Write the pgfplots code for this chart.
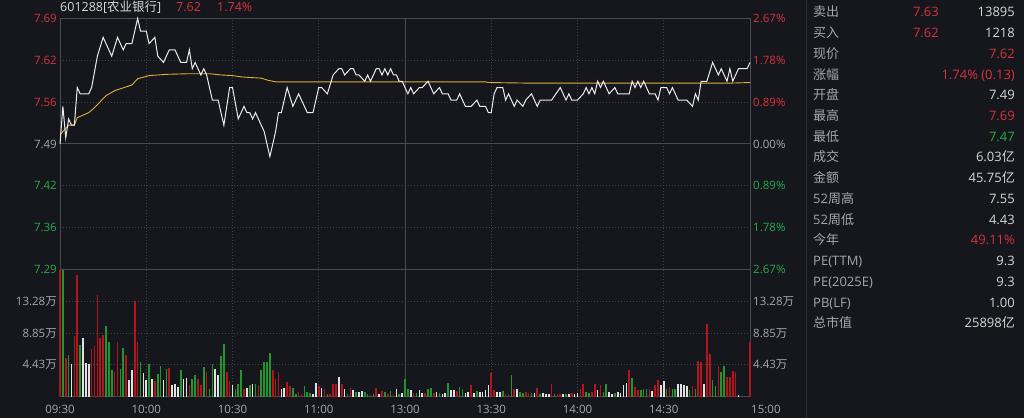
\documentclass[border=0pt]{standalone}
\usepackage{pgfplots}
\pgfplotsset{compat=1.18}
\usepackage{fontspec}
\setmainfont{Open Sans}
\newfontfamily\cjk{Noto Sans CJK SC}
\definecolor{bg}{RGB}{21,23,28}
\definecolor{gridc}{RGB}{62,65,72}
\definecolor{framec}{RGB}{72,75,82}
\definecolor{sepc}{RGB}{48,50,56}
\definecolor{upred}{RGB}{215,50,60}
\definecolor{dngreen}{RGB}{40,170,75}
\definecolor{lblgrey}{RGB}{165,167,172}
\definecolor{valc}{RGB}{215,215,218}
\definecolor{volred}{RGB}{178,22,28}
\definecolor{volgreen}{RGB}{32,150,45}
\definecolor{volwhite}{RGB}{225,225,228}
\definecolor{pricec}{RGB}{235,235,238}
\definecolor{avgc}{RGB}{225,175,55}
\newcommand\ax{\fontsize{11.5pt}{13pt}\selectfont}
\newcommand\pn{\fontsize{13pt}{15pt}\selectfont}
\begin{document}
\begin{tikzpicture}[x=1pt,y=1pt,
  ll/.style={anchor=base east, inner sep=0pt, yshift=-4.1pt, font=\ax},
  rl/.style={anchor=base west, inner sep=0pt, yshift=-4.1pt, font=\ax},
  pl/.style={anchor=base west, inner sep=0pt, yshift=-4.7pt, font=\pn, text=lblgrey},
  pv/.style={anchor=base east, inner sep=0pt, yshift=-4.7pt, font=\pn, text=valc}]
\fill[bg] (0,0) rectangle (1024,417);
% grid
\foreach \yy in {357.2,315.3,231.7,189.8,52.75,84.5,116.25}
  \draw[gridc, line width=0.8pt, dash pattern=on 1pt off 2pt] (60,\yy) -- (750,\yy);
\foreach \xx in {146.25,232.5,318.75,491.25,577.5,663.75}
  \draw[gridc, line width=0.8pt, dash pattern=on 1pt off 2pt] (\xx,21) -- (\xx,399);
\draw[framec, line width=1pt] (60,21) -- (60,399) (750,21)--(750,399) (405,21)--(405,399);
\draw[framec, line width=1pt] (60,399)--(750,399) (60,273.5)--(750,273.5) (60,148)--(750,148) (60,21)--(750,21);
\draw[sepc, line width=1pt] (806,0)--(806,417);

% volume
\begin{axis}[at={(60pt,21pt)}, anchor=south west, width=690pt, height=127pt, scale only axis,
  xmin=0, xmax=240, ymin=0, ymax=17.72, hide axis, clip=false]
\addplot[ycomb, volred, line width=1.6pt, mark=none] coordinates {
(0,17.7)(2,5.4)(5,8.4)(6,16.9)(11,6.6)(12,7.0)(13,14.1)(14,8.1)(15,8.6)(19,3.4)(20,7.6)(23,5.8)(26,13.3)(27,7.6)(33,2.2)(38,4.0)(45,1.55)(48,2.5)(49,1.55)(51,3.4)(58,3.4)(59,2.2)(64,1.1)(69,1.55)(74,3.7)(75,2.4)(76,3.4)(79,2.0)(80,1.4)(83,0.6)(84,0.4)(90,1.4)(92,1.1)(94,0.4)(95,1.8)(96,1.8)(98,1.8)(101,1.2)(108,0.15)(110,1.2)(112,0.75)(114,0.3)(116,0.15)(123,0.5)(127,0.5)(130,0.5)(138,0.75)(143,1.55)(150,3.3)(151,0.85)(155,0.4)(156,0.4)(158,1.0)(162,0.6)(163,0.5)(166,1.2)(171,1.8)(173,0.3)(174,0.3)(178,0.5)(181,1.1)(182,1.8)(185,0.6)(186,1.7)(188,1.55)(198,3.7)(200,1.3)(201,0.85)(205,1.0)(207,1.55)(208,2.25)(212,1.3)(220,1.4)(222,4.95)(223,4.8)(225,10.1)(226,5.9)(229,4.3)(232,2.7)(233,2.7)(234,3.5)(235,3.4)(240,7.6)};
\addplot[ycomb, volgreen, line width=1.6pt, mark=none] coordinates {
(1,17.7)(3,5.8)(7,7.2)(16,9.8)(17,7.6)(18,3.7)(21,3.9)(22,6.7)(28,4.8)(31,4.6)(34,3.1)(35,4.2)(37,3.9)(42,3.7)(46,2.5)(47,3.0)(50,4.1)(52,1.1)(53,4.6)(56,5.6)(57,7.3)(61,1.1)(62,1.8)(63,3.7)(66,1.55)(68,1.8)(70,3.7)(71,4.8)(72,4.8)(73,6.0)(81,1.2)(82,0.4)(85,1.4)(86,0.6)(87,0.5)(93,0.4)(100,0.4)(103,0.6)(106,0.6)(107,0.3)(109,0.4)(113,0.6)(115,0.75)(118,0.4)(120,2.5)(121,1.0)(124,0.5)(128,1.0)(129,1.2)(132,0.5)(135,1.9)(139,1.3)(140,1.1)(145,0.75)(154,0.75)(157,3.0)(160,0.6)(161,0.5)(164,0.5)(167,0.4)(172,0.4)(176,0.4)(183,0.6)(184,0.5)(189,0.6)(190,1.7)(193,0.5)(199,2.6)(202,0.85)(203,1.0)(204,1.0)(211,1.0)(213,1.0)(214,1.1)(219,0.85)(221,1.0)(227,2.25)(228,1.4)(230,3.4)(231,4.3)};
\addplot[ycomb, volwhite, line width=1.6pt, mark=none] coordinates {
(4,4.6)(8,8.1)(9,4.7)(10,4.6)(24,2.25)(25,3.7)(29,3.3)(30,2.25)(32,2.5)(36,2.25)(39,1.55)(40,1.7)(41,1.3)(43,2.5)(44,2.6)(54,3.9)(55,3.0)(60,1.55)(65,1.2)(67,1.8)(77,1.1)(78,1.2)(88,0.3)(89,1.9)(91,1.2)(97,2.7)(99,1.0)(102,0.85)(104,0.6)(105,0.75)(111,0.3)(117,1.1)(119,0.5)(122,0.85)(125,0.85)(126,0.5)(131,0.6)(133,0.4)(134,0.5)(136,0.85)(137,0.85)(141,0.5)(142,0.6)(144,0.5)(146,0.6)(147,0.6)(148,0.85)(149,1.55)(152,0.6)(153,0.6)(159,1.1)(165,0.5)(168,0.5)(169,0.4)(170,0.3)(175,0.3)(177,0.3)(179,0.4)(180,0.5)(187,0.85)(191,0.6)(192,0.4)(194,0.6)(195,0.5)(196,1.55)(197,1.9)(206,0.75)(209,1.55)(210,2.1)(215,1.8)(216,1.8)(217,1.55)(218,1.4)(224,1.8)(236,0.15)};
\end{axis}

% price
\begin{axis}[at={(60pt,148pt)}, anchor=south west, width=690pt, height=251pt, scale only axis,
  xmin=0, xmax=240, ymin=7.29, ymax=7.69, hide axis, clip=false]
\addplot[avgc, line width=0.9pt, mark=none] coordinates {
(0,7.505)(3,7.52)(5,7.52)(6,7.532)(10,7.54)(12,7.548)(16,7.567)(19,7.575)(25,7.584)(27,7.594)(31,7.599)(37,7.601)(45,7.602)(52,7.602)(56,7.600)(60,7.599)(63,7.597)(66,7.596)(70,7.595)(72,7.592)(75,7.589)(148,7.589)(149,7.588)(163,7.587)(233,7.587)(240,7.588)};
\addplot[pricec, line width=1pt, mark=none] coordinates {
(0,7.49)(1,7.55)(2,7.50)(3,7.53)(4,7.52)(5,7.52)(6,7.58)(7,7.57)(10,7.57)(11,7.58)(13,7.63)(15,7.66)(18,7.63)(20,7.66)(22,7.64)(23,7.65)(25,7.65)(27,7.69)(28,7.67)(30,7.67)(31,7.65)(33,7.66)(34,7.63)(36,7.62)(38,7.64)(40,7.64)(42,7.62)(44,7.62)(45,7.64)(46,7.61)(47,7.62)(49,7.60)(50,7.61)(51,7.60)(53,7.56)(55,7.56)(57,7.52)(59,7.58)(60,7.58)(62,7.53)(64,7.55)(65,7.54)(66,7.54)(67,7.53)(68,7.54)(70,7.52)(71,7.51)(73,7.47)(75,7.51)(76,7.54)(77,7.54)(79,7.58)(81,7.55)(83,7.57)(86,7.54)(88,7.54)(90,7.58)(91,7.58)(93,7.57)(95,7.60)(97,7.61)(98,7.61)(99,7.60)(101,7.61)(102,7.61)(103,7.60)(104,7.60)(106,7.59)(107,7.60)(108,7.59)(110,7.61)(111,7.61)(112,7.60)(113,7.61)(114,7.60)(115,7.61)(116,7.60)(117,7.60)(118,7.59)(119,7.59)(120,7.58)(121,7.57)(122,7.58)(123,7.57)(125,7.58)(126,7.58)(128,7.59)(130,7.57)(132,7.58)(133,7.57)(135,7.57)(136,7.56)(138,7.56)(139,7.57)(141,7.55)(143,7.55)(145,7.56)(146,7.55)(148,7.55)(149,7.54)(150,7.54)(151,7.57)(152,7.58)(154,7.58)(155,7.56)(156,7.57)(158,7.55)(159,7.56)(161,7.55)(162,7.56)(164,7.57)(166,7.55)(167,7.56)(168,7.56)(171,7.56)(174,7.58)(176,7.56)(177,7.57)(178,7.56)(180,7.56)(182,7.57)(183,7.58)(184,7.57)(185,7.58)(186,7.57)(187,7.59)(188,7.58)(189,7.59)(190,7.58)(191,7.57)(193,7.58)(194,7.57)(198,7.57)(199,7.59)(200,7.58)(201,7.59)(202,7.58)(203,7.59)(204,7.58)(205,7.57)(207,7.57)(208,7.56)(209,7.58)(211,7.58)(212,7.57)(213,7.58)(215,7.56)(218,7.56)(220,7.55)(221,7.57)(222,7.56)(223,7.59)(225,7.59)(227,7.62)(229,7.60)(230,7.61)(232,7.59)(233,7.61)(234,7.59)(236,7.61)(239,7.61)(240,7.62)};
\end{axis}

% left labels
\node[ll, text=upred] at (57,399) {7.69};
\node[ll, text=upred] at (57,357.2) {7.62};
\node[ll, text=upred] at (57,315.3) {7.56};
\node[ll, text=lblgrey] at (57,273.5) {7.49};
\node[ll, text=dngreen] at (57,231.7) {7.42};
\node[ll, text=dngreen] at (57,189.8) {7.36};
\node[ll, text=dngreen] at (57,148) {7.29};
\node[ll, text=lblgrey] at (57,116.25) {13.28{\cjk 万}};
\node[ll, text=lblgrey] at (57,84.5) {8.85{\cjk 万}};
\node[ll, text=lblgrey] at (57,52.75) {4.43{\cjk 万}};
% right labels
\node[rl, text=upred] at (753,399) {2.67\%};
\node[rl, text=upred] at (753,357.2) {1.78\%};
\node[rl, text=upred] at (753,315.3) {0.89\%};
\node[rl, text=lblgrey] at (753,273.5) {0.00\%};
\node[rl, text=dngreen] at (753,231.7) {0.89\%};
\node[rl, text=dngreen] at (753,189.8) {1.78\%};
\node[rl, text=dngreen] at (753,148) {2.67\%};
\node[rl, text=lblgrey] at (753,116.25) {13.28{\cjk 万}};
\node[rl, text=lblgrey] at (753,84.5) {8.85{\cjk 万}};
\node[rl, text=lblgrey] at (753,52.75) {4.43{\cjk 万}};
% time labels
\foreach \xx/\tt in {60/09:30,146.25/10:00,232.5/10:30,318.75/11:00,405/13:00,491.25/13:30,577.5/14:00,663.75/14:30}
  \node[anchor=base, inner sep=0pt, font=\ax, text=lblgrey] at (\xx,4.5) {\tt};
\node[anchor=base west, inner sep=0pt, font=\ax, text=lblgrey] at (751,4.5) {15:00};
% title
\node[anchor=base west, inner sep=0pt, font=\fontsize{12.5pt}{14pt}\selectfont, text=valc] at (60,406) {601288[{\cjk 农业银行}]};
\node[anchor=base west, inner sep=0pt, font=\fontsize{12.5pt}{14pt}\selectfont, text=upred] at (176,406) {7.62};
\node[anchor=base west, inner sep=0pt, font=\fontsize{12.5pt}{14pt}\selectfont, text=upred] at (217,406) {1.74\%};
% right panel
\node[pl] at (813,405.3) {\cjk 卖出};
\node[pv, text=upred] at (939,405.3) {7.63};
\node[pv] at (1015,405.3) {13895};
\node[pl] at (813,384.6) {\cjk 买入};
\node[pv, text=upred] at (939,384.6) {7.62};
\node[pv] at (1015,384.6) {1218};
\node[pl] at (813,363.8) {\cjk 现价};
\node[pv, text=upred] at (1015,363.8) {7.62};
\node[pl] at (813,343.1) {\cjk 涨幅};
\node[pv, text=upred] at (1015,343.1) {1.74\% (0.13)};
\node[pl] at (813,322.4) {\cjk 开盘};
\node[pv] at (1015,322.4) {7.49};
\node[pl] at (813,301.7) {\cjk 最高};
\node[pv, text=upred] at (1015,301.7) {7.69};
\node[pl] at (813,280.9) {\cjk 最低};
\node[pv, text=dngreen] at (1015,280.9) {7.47};
\node[pl] at (813,260.2) {\cjk 成交};
\node[pv] at (1015,260.2) {6.03{\cjk 亿}};
\node[pl] at (813,239.5) {\cjk 金额};
\node[pv] at (1015,239.5) {45.75{\cjk 亿}};
\node[pl] at (813,218.7) {52{\cjk 周高}};
\node[pv] at (1015,218.7) {7.55};
\node[pl] at (813,198.0) {52{\cjk 周低}};
\node[pv] at (1015,198.0) {4.43};
\node[pl] at (813,177.3) {\cjk 今年};
\node[pv, text=upred] at (1015,177.3) {49.11\%};
\node[pl] at (813,156.5) {PE(TTM)};
\node[pv] at (1015,156.5) {9.3};
\node[pl] at (813,135.8) {PE(2025E)};
\node[pv] at (1015,135.8) {9.3};
\node[pl] at (813,115.1) {PB(LF)};
\node[pv] at (1015,115.1) {1.00};
\node[pl] at (813,94.3) {\cjk 总市值};
\node[pv] at (1015,94.3) {25898{\cjk 亿}};
\end{tikzpicture}
\end{document}
